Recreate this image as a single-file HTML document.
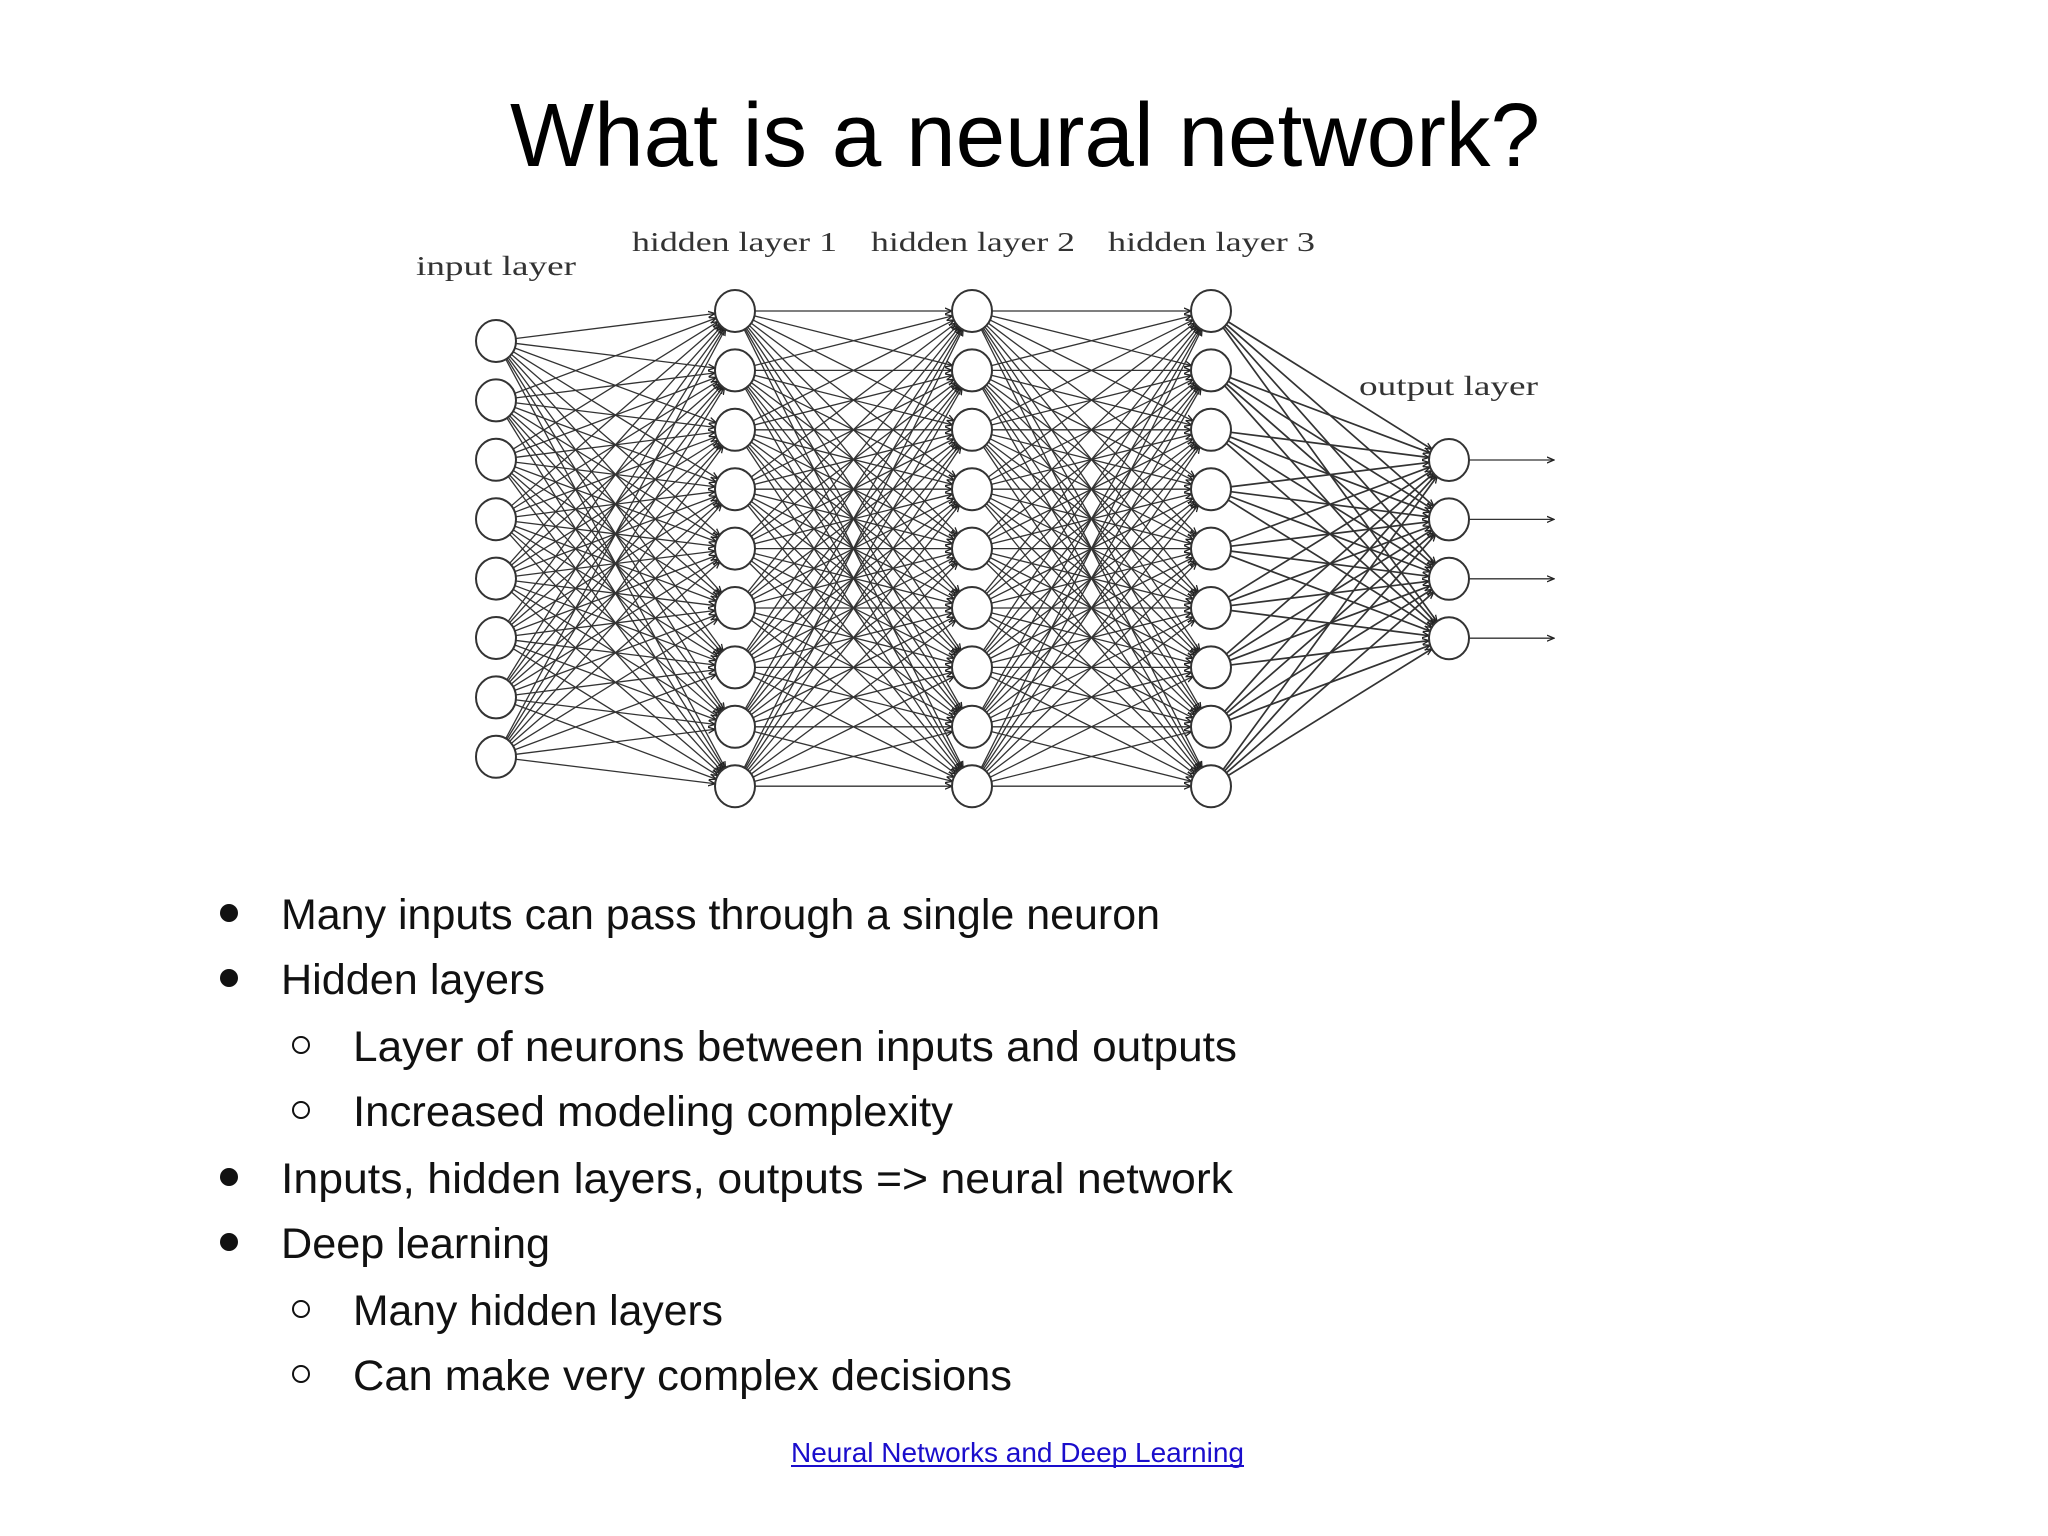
<!DOCTYPE html>
<html><head><meta charset="utf-8"><style>
html,body{margin:0;padding:0;background:#fff;}
svg{display:block;}
</style></head><body>
<svg id="s" width="2048" height="1536" viewBox="0 0 2048 1536" xmlns="http://www.w3.org/2000/svg">
<defs>
<marker id="ah" markerWidth="8" markerHeight="8" refX="7" refY="4" orient="auto" markerUnits="userSpaceOnUse">
<path d="M0,1 L7,4 L0,7" fill="none" stroke="#222" stroke-width="1.3"/>
</marker>
</defs>
<text x="510" y="166" font-family="Liberation Sans, sans-serif" font-size="90" textLength="1030" lengthAdjust="spacingAndGlyphs" fill="#000">What is a neural network?</text>
<g font-family="Liberation Serif, serif" font-size="27" fill="#333">
<text x="416" y="275" textLength="160" lengthAdjust="spacingAndGlyphs">input layer</text>
<text x="632" y="251" textLength="205" lengthAdjust="spacingAndGlyphs">hidden layer 1</text>
<text x="871" y="251" textLength="204" lengthAdjust="spacingAndGlyphs">hidden layer 2</text>
<text x="1108" y="251" textLength="207" lengthAdjust="spacingAndGlyphs">hidden layer 3</text>
<text x="1359" y="395" textLength="179" lengthAdjust="spacingAndGlyphs">output layer</text>
</g>
<g id="edges" stroke="#333" stroke-width="1.3" fill="none"></g>
<g id="nodes" stroke="#333" stroke-width="2" fill="#fff"></g>
<g fill="#111">
<circle cx="229" cy="913" r="9"/><circle cx="229" cy="978" r="9"/>
<circle cx="229" cy="1177" r="9"/><circle cx="229" cy="1242" r="9"/>
</g>
<g fill="none" stroke="#111" stroke-width="2">
<circle cx="301" cy="1045" r="8"/><circle cx="301" cy="1110" r="8"/>
<circle cx="301" cy="1309" r="8"/><circle cx="301" cy="1374" r="8"/>
</g>
<g font-family="Liberation Sans, sans-serif" font-size="43" fill="#111">
<text x="281" y="929" textLength="879" lengthAdjust="spacingAndGlyphs">Many inputs can pass through a single neuron</text>
<text x="281" y="994" textLength="264" lengthAdjust="spacingAndGlyphs">Hidden layers</text>
<text x="353" y="1061" textLength="884" lengthAdjust="spacingAndGlyphs">Layer of neurons between inputs and outputs</text>
<text x="353" y="1126" textLength="600" lengthAdjust="spacingAndGlyphs">Increased modeling complexity</text>
<text x="281" y="1193" textLength="952" lengthAdjust="spacingAndGlyphs">Inputs, hidden layers, outputs =&gt; neural network</text>
<text x="281" y="1258" textLength="269" lengthAdjust="spacingAndGlyphs">Deep learning</text>
<text x="353" y="1325" textLength="370" lengthAdjust="spacingAndGlyphs">Many hidden layers</text>
<text x="353" y="1390" textLength="659" lengthAdjust="spacingAndGlyphs">Can make very complex decisions</text>
</g>
<text x="791" y="1462" font-family="Liberation Sans, sans-serif" font-size="28" fill="#1a0dcc" textLength="453" lengthAdjust="spacingAndGlyphs">Neural Networks and Deep Learning</text>
<line x1="791" y1="1466" x2="1244" y2="1466" stroke="#1a0dcc" stroke-width="2"/>
</svg>
<script>
(function(){
var NS="http://www.w3.org/2000/svg";
var sp=59.4;
function col(x,y0,n){var a=[];for(var i=0;i<n;i++)a.push([x,y0+sp*i]);return a;}
var L=[col(496,341,8),col(735,311,9),col(972,311,9),col(1211,311,9),col(1449,460,4)];
var E=document.getElementById("edges"),N=document.getElementById("nodes");
var r=20;
for(var k=0;k<L.length-1;k++){
 L[k].forEach(function(a){L[k+1].forEach(function(b){
  var dx=b[0]-a[0],dy=b[1]-a[1],d=Math.sqrt(dx*dx+dy*dy);
  var l=document.createElementNS(NS,"line");
  l.setAttribute("x1",a[0]+dx/d*r);l.setAttribute("y1",a[1]+dy/d*r);
  l.setAttribute("x2",b[0]-dx/d*r);l.setAttribute("y2",b[1]-dy/d*r);
  l.setAttribute("marker-end","url(#ah)");
  if(k==3)l.setAttribute("stroke-width","1.7");
  E.appendChild(l);
 });});
}
L[4].forEach(function(b){
 var l=document.createElementNS(NS,"line");
 l.setAttribute("x1",b[0]+r);l.setAttribute("y1",b[1]);
 l.setAttribute("x2",1554);l.setAttribute("y2",b[1]);
 l.setAttribute("marker-end","url(#ah)");E.appendChild(l);
});
L.forEach(function(c){c.forEach(function(p){
 var e=document.createElementNS(NS,"ellipse");
 e.setAttribute("cx",p[0]);e.setAttribute("cy",p[1]);e.setAttribute("rx",r);e.setAttribute("ry",21);
 N.appendChild(e);
});});
})();
</script>
</body></html>
